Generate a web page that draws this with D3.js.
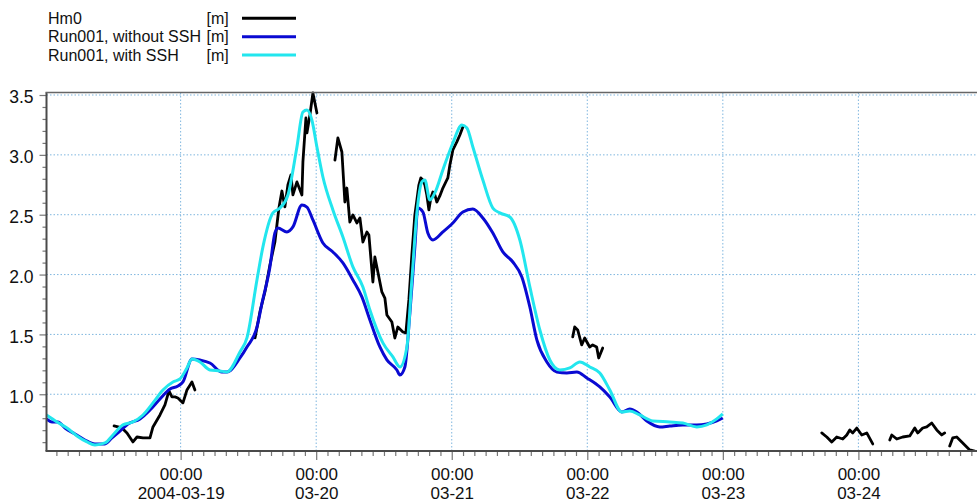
<!DOCTYPE html>
<html>
<head>
<meta charset="utf-8">
<script src="https://cdn.jsdelivr.net/npm/d3@7"></script>
<style>
  html, body { margin: 0; padding: 0; background: #fff; }
  svg { display: block; font-family: "Liberation Sans", Arial, sans-serif; }
</style>
</head>
<body>
<svg id="chart" width="977" height="504"></svg>
<script>
// Times are hours after 2004-03-18 00:00, values are significant wave height [m].
const startDate = new Date(2004, 2, 18, 0, 0);

const seriesNames = ["Hm0", "Run001, without SSH", "Run001, with SSH"];
const seriesUnits = ["[m]", "[m]", "[m]"];

// Measured Hm0, split into its recorded stretches (gaps between them)
const hm0Segments = [
  [[12.21,0.735],[13.61,0.719],[14.50,0.677],[15.56,0.602],[16.27,0.643],[17.33,0.635],
   [18.57,0.635],[19.10,0.727],[20.34,0.827],[21.22,0.911],[21.93,1.028],[22.46,0.978],
   [23.00,0.978],[23.52,0.969],[24.41,0.928],[25.12,1.036],[26.00,1.103],[26.53,1.036]],
  [[37.17,1.471],[38.04,1.688],[38.92,1.855],[39.81,2.080],[40.69,2.272],[41.40,2.556],
   [41.93,2.698],[42.46,2.565],[42.99,2.749],[43.53,2.832],[43.88,2.665],[44.59,2.774],
   [45.47,2.665],[45.65,2.941],[46.18,3.308],[46.36,3.183],[46.89,3.333],[47.42,3.517],
   [48.13,3.350]],
  [[51.32,2.957],[51.84,3.141],[52.55,3.024],[53.08,2.606],[53.43,2.723],[53.96,2.439],
   [54.50,2.498],[55.20,2.431],[55.74,2.473],[56.27,2.272],[56.98,2.356],[57.33,2.331],
   [58.04,1.938],[58.39,2.147],[58.92,2.022],[59.63,1.855],[60.16,1.804],[60.52,1.662],
   [61.40,1.604],[61.93,1.470],[62.46,1.562],[63.35,1.520],[63.88,1.512],[64.41,1.788],
   [64.94,2.164],[65.47,2.498],[65.83,2.623],[66.18,2.748],[66.53,2.807],[66.89,2.790],
   [67.24,2.748],[67.59,2.665],[67.95,2.540],[68.30,2.640],[68.66,2.690],[69.01,2.665],
   [69.36,2.606],[69.89,2.657],[70.43,2.723],[70.96,2.774],[71.31,2.807],[71.67,2.916],
   [72.20,3.041],[72.90,3.108],[73.44,3.166],[73.97,3.233]],
  [[93.42,1.479],[93.77,1.562],[94.30,1.537],[95.01,1.412],[95.54,1.470],[96.42,1.395],
   [96.96,1.412],[97.66,1.395],[98.02,1.303],[98.73,1.387]],
  [[137.51,0.677],[138.40,0.643],[139.28,0.601],[140.17,0.643],[141.23,0.626],[141.94,0.660],
   [142.47,0.702],[143.00,0.677],[143.71,0.718],[144.59,0.660],[145.48,0.677],[146.54,0.585]],
  [[149.55,0.618],[149.91,0.660],[150.79,0.626],[151.85,0.643],[153.09,0.652],[153.98,0.718],
   [154.51,0.677],[155.39,0.718],[156.10,0.727],[156.98,0.760],[157.87,0.702],[158.76,0.660],
   [159.29,0.677]],
  [[160.17,0.568],[160.70,0.635],[161.41,0.643],[162.30,0.601],[163.18,0.560],[163.71,0.535],
   [164.60,0.526]]
];

// Model run without sea surface height forcing
const runNoSSH = [
  [0.25,0.794],[1.22,0.769],[2.28,0.769],[3.52,0.718],[5.29,0.668],[7.06,0.618],[8.83,0.585],
  [10.60,0.585],[11.84,0.635],[13.26,0.693],[14.67,0.752],[16.80,0.794],[18.57,0.869],
  [20.34,0.961],[22.11,1.044],[23.52,1.069],[24.41,1.103],[26.00,1.295],[27.42,1.286],
  [29.19,1.261],[31.31,1.186],[32.20,1.186],[34.50,1.303],[35.74,1.395],[37.51,1.560],[38.40,1.760],
  [39.81,2.064],[40.69,2.347],[41.22,2.389],[42.82,2.356],[43.88,2.398],[45.47,2.581],
  [46.36,2.564],[47.42,2.456],[49.19,2.264],[50.96,2.189],[52.73,2.097],[54.50,1.955],
  [56.09,1.813],[57.51,1.621],[59.28,1.395],[60.52,1.287],[62.29,1.203],[62.82,1.161],
  [63.70,1.228],[64.59,1.679],[65.47,2.231],[66.00,2.556],[66.89,2.523],[67.77,2.347],
  [68.66,2.289],[70.43,2.356],[72.20,2.431],[73.97,2.523],[75.74,2.548],[77.51,2.473],
  [79.28,2.347],[81.05,2.189],[82.82,2.105],[84.41,1.980],[85.83,1.729],[87.07,1.454],
  [88.84,1.270],[90.61,1.186],[92.38,1.178],[94.15,1.186],[95.92,1.136],[98.22,1.061],
  [99.99,0.977],[102.11,0.852],[103.53,0.877],[104.77,0.852],[106.54,0.777],[108.84,0.727],
  [110.61,0.735],[112.91,0.743],[115.39,0.743],[117.16,0.752],[118.93,0.777],[119.99,0.802]
];

// Model run with sea surface height forcing
const runWithSSH = [
  [0.25,0.827],[2.11,0.769],[3.88,0.718],[5.65,0.652],[7.42,0.602],[8.83,0.576],[10.60,0.593],
  [12.02,0.660],[13.79,0.744],[15.56,0.769],[17.33,0.827],[19.10,0.928],[20.87,1.036],
  [22.64,1.103],[23.88,1.128],[25.12,1.220],[26.00,1.295],[27.42,1.270],[29.19,1.203],
  [30.96,1.195],[32.20,1.186],[34.50,1.353],[35.74,1.471],[37.51,1.955],[38.57,2.231],
  [40.34,2.515],[41.58,2.556],[43.00,2.665],[44.59,3.066],[45.65,3.358],[46.36,3.375],
  [47.24,3.291],[48.13,3.066],[49.19,2.815],[50.96,2.540],[52.73,2.314],[54.50,2.064],
  [56.27,1.897],[57.51,1.704],[59.81,1.429],[61.58,1.312],[62.82,1.228],[64.06,1.395],
  [64.94,1.955],[65.83,2.515],[66.71,2.774],[67.24,2.790],[68.13,2.623],[69.01,2.682],
  [70.43,2.874],[72.20,3.099],[73.80,3.250],[74.68,3.225],[75.74,3.066],[77.51,2.790],
  [79.28,2.556],[80.52,2.515],[82.29,2.481],[84.06,2.289],[85.83,1.897],[87.60,1.537],
  [89.37,1.286],[91.14,1.203],[92.91,1.220],[94.68,1.270],[96.45,1.228],[98.22,1.178],
  [99.99,1.036],[102.11,0.852],[103.53,0.860],[105.30,0.827],[107.60,0.777],[110.61,0.769],
  [112.91,0.760],[115.39,0.727],[117.16,0.744],[118.93,0.794],[119.99,0.836]
];

const yMajorTicks = [1.0, 1.5, 2.0, 2.5, 3.0, 3.5];
const xTopLabels = ["00:00", "00:00", "00:00", "00:00", "00:00", "00:00"];
const xBottomLabels = ["2004-03-19", "03-20", "03-21", "03-22", "03-23", "03-24"];

// ---- drawing ----
const colors = ["#000000", "#0a0ad2", "#22e6ee"];
const hourToDate = h => new Date(startDate.getTime() + h * 3600e3);

const svg = d3.select("#chart");
const plotLeft = 46.5, plotRight = 977, plotTop = 92.5, plotBottom = 451;

const x = d3.scaleTime()
  .domain([hourToDate(0.25), hourToDate(165)])
  .range([plotLeft, plotRight]);
const y = d3.scaleLinear()
  .domain([0.526, 3.521])
  .range([plotBottom, plotTop]);

// gridlines
const gridColor = "#7fb6df";
const grid = svg.append("g");
grid.selectAll("line.gy").data(yMajorTicks).join("line")
  .attr("x1", plotLeft).attr("x2", plotRight)
  .attr("y1", d => y(d)).attr("y2", d => y(d))
  .attr("stroke", gridColor).attr("stroke-width", 1).attr("stroke-dasharray", "1.5,2");
const dayTicks = d3.timeDay.range(hourToDate(24), hourToDate(165));
grid.selectAll("line.gx").data(dayTicks).join("line")
  .attr("x1", d => x(d)).attr("x2", d => x(d))
  .attr("y1", plotTop).attr("y2", plotBottom)
  .attr("stroke", gridColor).attr("stroke-width", 1).attr("stroke-dasharray", "1.5,2");

// clip to plot area
svg.append("defs").append("clipPath").attr("id", "plotClip")
  .append("rect").attr("x", plotLeft).attr("y", plotTop - 2)
  .attr("width", plotRight - plotLeft).attr("height", plotBottom - plotTop + 2);

const plot = svg.append("g").attr("clip-path", "url(#plotClip)");

const jagged = d3.line().x(d => x(hourToDate(d[0]))).y(d => y(d[1]));
const smooth = d3.line().x(d => x(hourToDate(d[0]))).y(d => y(d[1])).curve(d3.curveMonotoneX);

plot.selectAll("path.hm0").data(hm0Segments).join("path")
  .attr("d", jagged).attr("fill", "none")
  .attr("stroke", colors[0]).attr("stroke-width", 2.8)
  .attr("stroke-linejoin", "round").attr("stroke-linecap", "round");
plot.append("path").datum(runNoSSH).attr("d", smooth).attr("fill", "none")
  .attr("stroke", colors[1]).attr("stroke-width", 3).attr("stroke-linejoin", "round");
plot.append("path").datum(runWithSSH).attr("d", smooth).attr("fill", "none")
  .attr("stroke", colors[2]).attr("stroke-width", 3).attr("stroke-linejoin", "round");

// axes
const axisColor = "#4a4a4a";
const tickFont = "17px";

// y minor ticks
const yMinor = d3.range(6, 36).map(v => v / 10)
  .filter(v => !yMajorTicks.some(m => Math.abs(m - v) < 1e-6));
svg.append("g").attr("transform", `translate(${plotLeft},0)`)
  .call(d3.axisLeft(y).tickValues(yMinor).tickSize(4).tickFormat(""))
  .call(g => g.select(".domain").remove())
  .call(g => g.selectAll("line").attr("stroke", "#777").attr("stroke-width", 1.2));

// y major ticks + labels
svg.append("g").attr("transform", `translate(${plotLeft},0)`)
  .call(d3.axisLeft(y).tickValues(yMajorTicks).tickSize(7).tickPadding(6).tickFormat(d3.format(".1f")))
  .call(g => g.select(".domain").remove())
  .call(g => g.selectAll("line").attr("stroke", "#777").attr("stroke-width", 1.2))
  .call(g => g.selectAll("text").attr("fill", "#111").style("font-size", "17.5px")
    .attr("dy", "0.45em"));

// x minor ticks every 2 hours
const hourTicks = d3.timeHour.every(2).range(hourToDate(0.25), hourToDate(165))
  .filter(d => d.getHours() !== 0);
svg.append("g").attr("transform", `translate(0,${plotBottom})`)
  .call(d3.axisBottom(x).tickValues(hourTicks).tickSize(5).tickFormat(""))
  .call(g => g.select(".domain").remove())
  .call(g => g.selectAll("line").attr("stroke", "#777").attr("stroke-width", 1.2));

// x major ticks with two-line labels
const xMajor = svg.append("g").attr("transform", `translate(0,${plotBottom})`)
  .call(d3.axisBottom(x).tickValues(dayTicks).tickSize(9).tickFormat(""))
  .call(g => g.select(".domain").remove())
  .call(g => g.selectAll("line").attr("stroke", "#777").attr("stroke-width", 1.2));
xMajor.selectAll("g.tick").each(function(d, i) {
  const t = d3.select(this).append("text")
    .attr("fill", "#111").attr("text-anchor", "middle").style("font-size", tickFont);
  t.append("tspan").attr("x", 0).attr("y", 28.5).text(xTopLabels[i]);
  t.append("tspan").attr("x", 0).attr("y", 47.5).text(xBottomLabels[i]);
});

// frame: left axis, bottom axis, top border
svg.append("line").attr("x1", plotLeft).attr("x2", plotLeft).attr("y1", plotTop).attr("y2", plotBottom)
  .attr("stroke", axisColor).attr("stroke-width", 2);
svg.append("line").attr("x1", plotLeft - 1).attr("x2", plotRight).attr("y1", plotBottom).attr("y2", plotBottom)
  .attr("stroke", axisColor).attr("stroke-width", 2);
svg.append("line").attr("x1", plotLeft - 1).attr("x2", plotRight).attr("y1", plotTop).attr("y2", plotTop)
  .attr("stroke", "#666").attr("stroke-width", 1.5);

// legend
const legend = svg.append("g");
seriesNames.forEach((name, i) => {
  const cy = 18.3 + i * 18.4;
  legend.append("text").attr("x", 48).attr("y", cy + 5.5)
    .style("font-size", "16px").attr("fill", "#111").text(name);
  legend.append("text").attr("x", 206.5).attr("y", cy + 5.5)
    .style("font-size", "16px").attr("fill", "#111").text(seriesUnits[i]);
  legend.append("line").attr("x1", 242).attr("x2", 296).attr("y1", cy).attr("y2", cy)
    .attr("stroke", colors[i]).attr("stroke-width", 3);
});
</script>
</body>
</html>
